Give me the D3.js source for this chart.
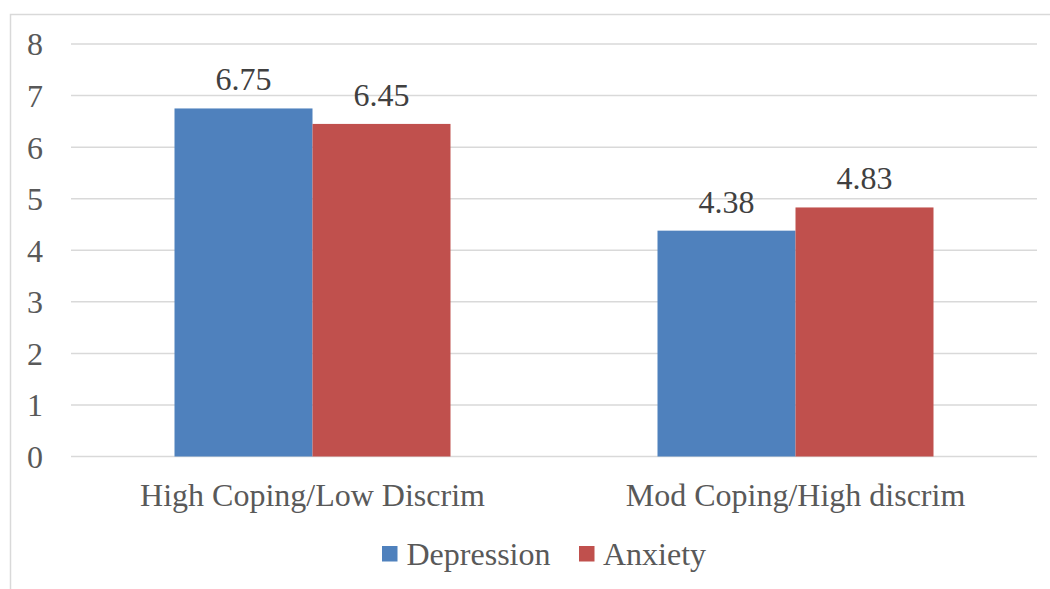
<!DOCTYPE html>
<html>
<head>
<meta charset="utf-8">
<script src="https://cdn.jsdelivr.net/npm/d3@7"></script>
<style>
  html, body { margin: 0; padding: 0; background: #fff; }
  svg { display: block; }
</style>
</head>
<body>
<svg id="chart" width="1050" height="589"></svg>
<script>
// Mean scores by coping / discrimination profile
const categories = ["High Coping/Low Discrim", "Mod Coping/High discrim"];
const seriesNames = ["Depression", "Anxiety"];
const depression = [6.75, 4.38];
const anxiety = [6.45, 4.83];
const yTicks = [0, 1, 2, 3, 4, 5, 6, 7, 8];
const colors = ["#4F81BD", "#C0504D"];

const values = [depression, anxiety];
const rows = categories.map((c, i) => ({
  category: c,
  items: seriesNames.map((s, j) => ({ series: s, value: values[j][i] }))
}));

const svg = d3.select("#chart");
const W = 1050, H = 589;
const plot = { left: 71, right: 1037, top: 44, bottom: 456.5 };
const FONT = "Liberation Serif";
const fontSize = "32px";

function styleText(sel, fill) {
  sel.style("font-family", FONT)
     .style("font-size", fontSize)
     .style("fill", fill || "#595959");
}

// Outer chart frame (extends past the window edge on the right and bottom)
svg.append("rect")
  .attr("x", 10.5).attr("y", 14.5)
  .attr("width", W + 20).attr("height", H + 20)
  .attr("fill", "none")
  .attr("stroke", "#d9d9d9")
  .attr("stroke-width", 1.5);

const y = d3.scaleLinear().domain([0, 8]).range([plot.bottom, plot.top]);
const x0 = d3.scaleBand().domain(categories).range([plot.left, plot.right]).padding(0);
const x1 = d3.scaleBand().domain(seriesNames).range([0, x0.bandwidth()])
  .paddingInner(0).paddingOuter(0.75);
const color = d3.scaleOrdinal().domain(seriesNames).range(colors);

// Horizontal gridlines
svg.append("g")
  .selectAll("line")
  .data(yTicks)
  .join("line")
  .attr("x1", plot.left).attr("x2", plot.right)
  .attr("y1", d => y(d)).attr("y2", d => y(d))
  .attr("stroke", "#d9d9d9")
  .attr("stroke-width", 1.5);

// Y axis tick labels
const yAxis = d3.axisLeft(y).tickValues(yTicks).tickSize(0).tickPadding(0).tickFormat(d3.format("d"));
const gy = svg.append("g").attr("transform", `translate(${plot.left - 28},0)`).call(yAxis);
gy.select(".domain").remove();
gy.selectAll("text").call(styleText).attr("dy", "0.34em");

// Bars
const groups = svg.append("g")
  .selectAll("g")
  .data(rows)
  .join("g")
  .attr("transform", d => `translate(${x0(d.category)},0)`);

groups.selectAll("rect")
  .data(d => d.items)
  .join("rect")
  .attr("x", d => x1(d.series))
  .attr("width", x1.bandwidth())
  .attr("y", d => y(d.value))
  .attr("height", d => y(0) - y(d.value))
  .attr("fill", d => color(d.series));

// Value labels above bars
groups.selectAll("text.val")
  .data(d => d.items)
  .join("text")
  .attr("class", "val")
  .attr("x", d => x1(d.series) + x1.bandwidth() / 2)
  .attr("y", d => y(d.value) - 18)
  .attr("text-anchor", "middle")
  .call(styleText, "#404040")
  .text(d => d.value.toFixed(2));

// Category axis labels
const xAxis = d3.axisBottom(x0).tickSize(0).tickPadding(0);
const gx = svg.append("g").attr("transform", `translate(0,${plot.bottom + 49.5})`).call(xAxis);
gx.select(".domain").remove();
gx.selectAll("text").call(styleText).attr("dy", 0);

// Legend
const legendItems = [
  { name: seriesNames[0], sx: 382, tx: 406.5 },
  { name: seriesNames[1], sx: 579, tx: 603 }
];
const legend = svg.append("g");
legend.selectAll("rect")
  .data(legendItems)
  .join("rect")
  .attr("x", d => d.sx).attr("y", 546)
  .attr("width", 15.5).attr("height", 15.5)
  .attr("fill", d => color(d.name));
legend.selectAll("text")
  .data(legendItems)
  .join("text")
  .attr("x", d => d.tx).attr("y", 565)
  .call(styleText)
  .text(d => d.name);
</script>
</body>
</html>
